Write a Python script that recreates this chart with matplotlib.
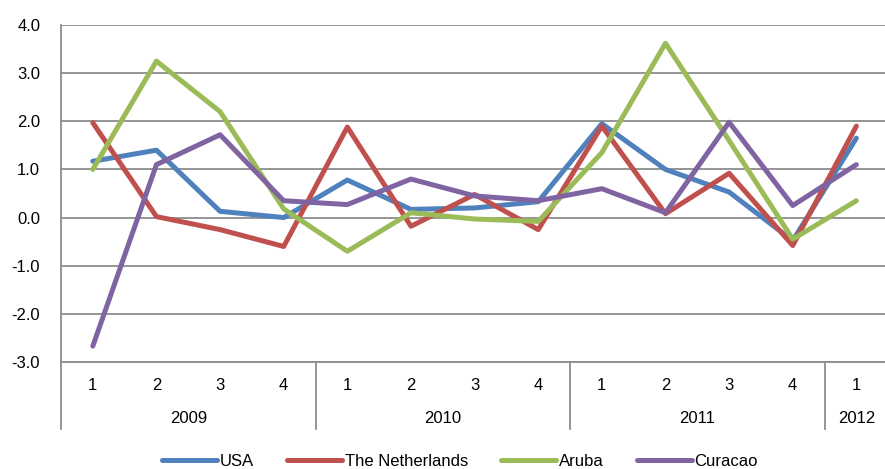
import matplotlib.pyplot as plt
import matplotlib.transforms as mtransforms

plt.rcParams['font.family'] = ['Liberation Sans', 'DejaVu Sans']

quarters = ['1', '2', '3', '4', '1', '2', '3', '4', '1', '2', '3', '4', '1']
years = ['2009', '2010', '2011', '2012']
year_span = [4, 4, 4, 1]

usa = [1.17, 1.40, 0.13, 0.00, 0.78, 0.17, 0.20, 0.33, 1.95, 1.00, 0.53, -0.48, 1.65]
netherlands = [1.97, 0.02, -0.25, -0.60, 1.88, -0.18, 0.48, -0.25, 1.90, 0.08, 0.92, -0.58, 1.90]
aruba = [1.00, 3.25, 2.20, 0.18, -0.70, 0.10, -0.03, -0.08, 1.35, 3.62, 1.60, -0.45, 0.35]
curacao = [-2.67, 1.10, 1.72, 0.35, 0.27, 0.80, 0.45, 0.35, 0.60, 0.10, 1.98, 0.25, 1.10]

series = [('USA', usa, '#4F81BD'),
          ('The Netherlands', netherlands, '#C0504D'),
          ('Aruba', aruba, '#9BBB59'),
          ('Curacao', curacao, '#8064A2')]

fig = plt.figure(figsize=(8.85, 4.69), dpi=100)
ax = fig.add_axes([61/885, 1 - 362/469, 1 - 61/885, (362 - 25)/469])

x = list(range(len(quarters)))
for name, vals, col in series:
    ax.plot(x, vals, color=col, lw=3.6, label=name, solid_joinstyle='round',
            solid_capstyle='round')

ax.set_ylim(-3, 4)
ax.set_xlim(-0.5, 12.45)
ax.set_yticks(range(-3, 5))
ax.set_yticklabels(['%.1f' % v for v in range(-3, 5)], fontsize=12)
ax.tick_params(axis='y', length=0, pad=15)
ax.set_xticks([])
ax.grid(axis='y', color='#8C8C8C', lw=1.3)
ax.set_axisbelow(True)
for s in ['top', 'right']:
    ax.spines[s].set_visible(False)
for s in ['left', 'bottom']:
    ax.spines[s].set_color('#8C8C8C')
    ax.spines[s].set_linewidth(1.3)

trans = mtransforms.blended_transform_factory(ax.transData, ax.transAxes)
px = 1 / (362 - 25)
for i, q in enumerate(quarters):
    ax.text(i, -23 * px, q, transform=trans, ha='center', va='center', fontsize=12)

start = 0
for yr, n in zip(years, year_span):
    ax.text(start + (n - 1) / 2, -56 * px, yr, transform=trans, ha='center', va='center', fontsize=12)
    ax.plot([start - 0.5, start - 0.5], [0, -67 * px], transform=trans, color='#8C8C8C',
            lw=1.3, clip_on=False)
    start += n

fig.legend(loc='center', bbox_to_anchor=(0.52, 1 - 461/469), ncol=4, frameon=False,
           fontsize=12, handlelength=3.3, handletextpad=0.15, columnspacing=2.0)

fig.savefig('out.png', dpi=100)
